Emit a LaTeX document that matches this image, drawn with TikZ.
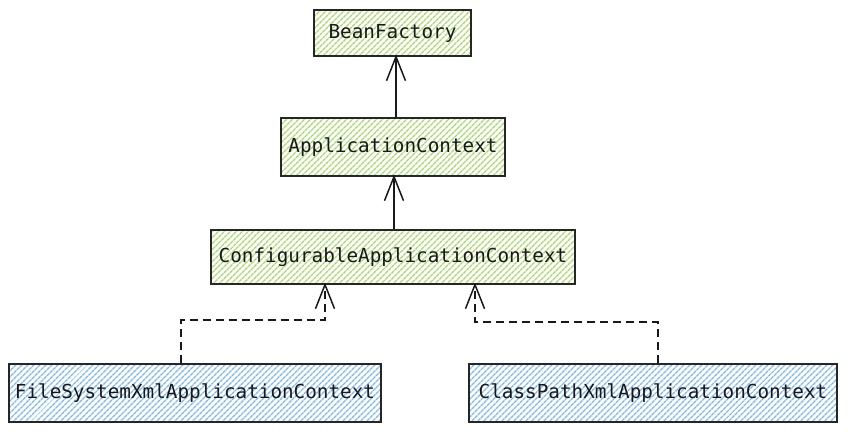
\documentclass[tikz,border=0pt]{standalone}
\usepackage{fontspec}
\setmonofont{DejaVu Sans Mono}
\usetikzlibrary{arrows.meta,patterns.meta}
\definecolor{hgreen}{HTML}{A6D96A}
\definecolor{hblue}{HTML}{7DB9F0}
\begin{document}
\begin{tikzpicture}[x=1pt,y=-1pt,
  cls/.style={draw=black!85,line width=1.3pt,minimum height=#1,inner sep=0pt,
    font=\ttfamily\fontsize{19.3}{22}\selectfont,text=black!90},
  gfill/.style={pattern={Lines[angle=45,distance=4pt,line width=1.4pt]},pattern color=hgreen},
  bfill/.style={pattern={Lines[angle=45,distance=4pt,line width=1.4pt]},pattern color=hblue},
  inh/.style={draw=black!90,line width=1.5pt,-{Straight Barb[length=24pt,width=19pt,line width=1.5pt]}},
  real/.style={inh,dashed,dash pattern=on 8pt off 5pt}]
\useasboundingbox (0,0) rectangle (849,432);
\node[cls=46pt,gfill,minimum width=157pt] (bf) at (392.5,33) {BeanFactory};
\node[cls=58pt,gfill,minimum width=224pt] (ac) at (393,147) {ApplicationContext};
\node[cls=54pt,gfill,minimum width=364pt] (cac) at (393,257) {ConfigurableApplicationContext};
\node[cls=58pt,bfill,minimum width=372pt] (fs) at (195,393) {FileSystemXmlApplicationContext};
\node[cls=58pt,bfill,minimum width=368pt] (cp) at (653,393) {ClassPathXmlApplicationContext};
\draw[inh] (ac.north -| 396,0) -- ([yshift=2pt]bf.south -| 396,0);
\draw[inh] (cac.north -| 394,0) -- ([yshift=2pt]ac.south -| 394,0);
\draw[real] (fs.north -| 181,0) -- (181,320) -- (325,320) -- ([yshift=2pt]cac.south -| 325,0);
\draw[real] (cp.north -| 658,0) -- (658,322) -- (475,322) -- ([yshift=2pt]cac.south -| 475,0);
\end{tikzpicture}
\end{document}
